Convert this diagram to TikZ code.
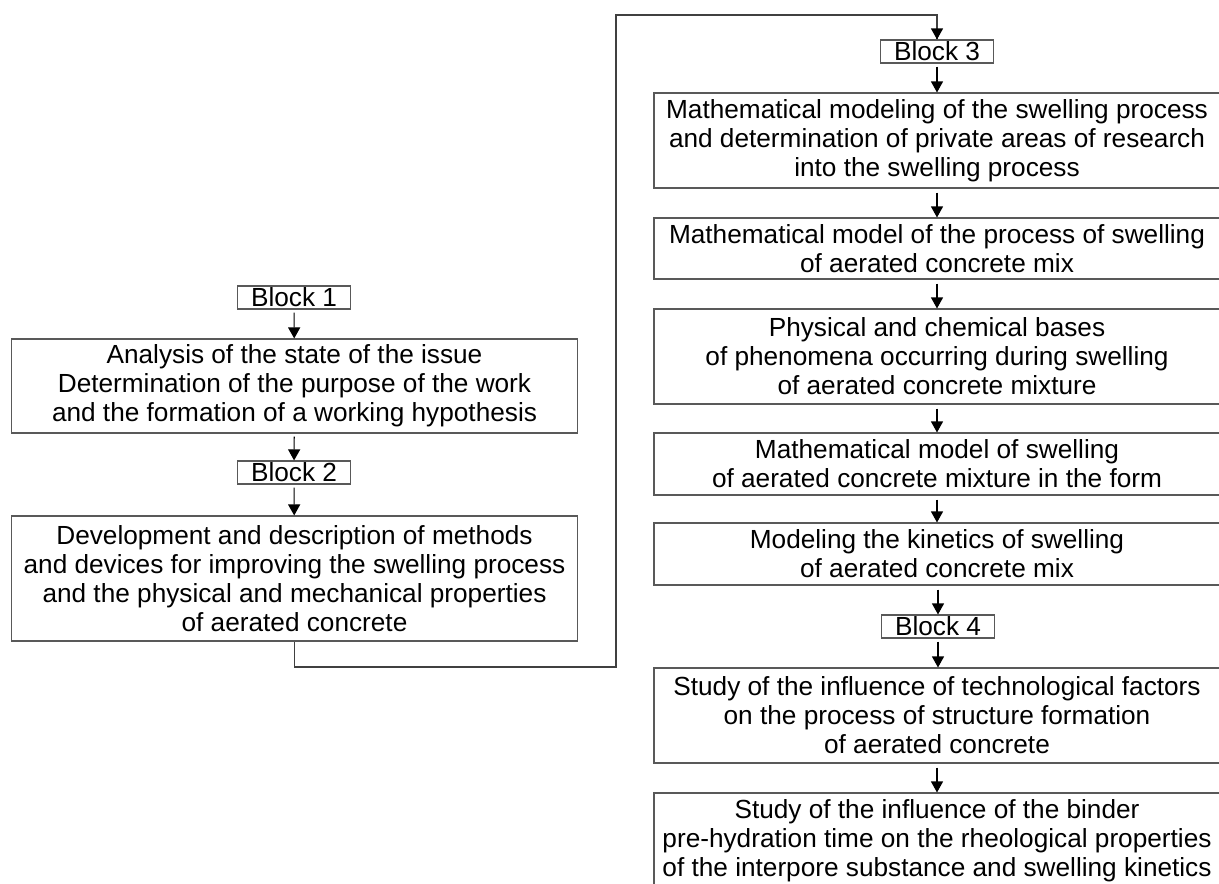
\documentclass[tikz,border=0pt]{standalone}
\usepackage{fontspec}
\setmainfont{Liberation Sans}
\usetikzlibrary{arrows.meta}
\begin{document}
\begin{tikzpicture}[x=1pt,y=-1pt,
  every node/.style={font=\fontsize{26.2}{29}\selectfont, align=center, inner sep=0pt},
  bigbox/.style={draw=black!65, line width=1.1pt, minimum width=566pt},
  blockbox/.style={draw=black!65, line width=1.1pt, minimum width=113pt, minimum height=23pt},
  flow/.style={draw=black, line width=1.1pt, -{Triangle[width=12pt,length=11pt]}},
  conn/.style={draw=black!75, line width=1.1pt}
]
\useasboundingbox (0,0) rectangle (1219,884);
% left column
\node[blockbox] (b1) at (294,297.5) {Block 1};
\node[bigbox, minimum height=94pt] (a) at (294.5,386) {Analysis of the state of the issue\\Determination of the purpose of the work\\and the formation of a working hypothesis};
\node[blockbox] (b2) at (294,472.5) {Block 2};
\node[bigbox, minimum height=125pt] (b) at (294.5,578.5) {Development and description of methods\\and devices for improving the swelling process\\and the physical and mechanical properties\\of aerated concrete};
% right column
\node[blockbox] (b3) at (937,51.5) {Block 3};
\node[bigbox, minimum height=95pt] (r1) at (937,140.5) {Mathematical modeling of the swelling process\\and determination of private areas of research\\into the swelling process};
\node[bigbox, minimum height=61pt] (r2) at (937,248.5) {Mathematical model of the process of swelling\\of aerated concrete mix};
\node[bigbox, minimum height=95pt] (r3) at (937,356.5) {Physical and chemical bases\\of phenomena occurring during swelling\\of aerated concrete mixture};
\node[bigbox, minimum height=62pt] (r4) at (937,464) {Mathematical model of swelling\\of aerated concrete mixture in the form};
\node[bigbox, minimum height=62pt] (r5) at (937,554) {Modeling the kinetics of swelling\\of aerated concrete mix};
\node[blockbox] (b4) at (938,626.5) {Block 4};
\node[bigbox, minimum height=95pt] (r6) at (937,715.5) {Study of the influence of technological factors\\on the process of structure formation\\of aerated concrete};
\node[bigbox, minimum height=95pt] (r7) at (937,840.5) {Study of the influence of the binder\\pre-hydration time on the rheological properties\\of the interpore substance and swelling kinetics};
% arrows
\draw[flow, shorten <=3pt] (b1) -- (a);
\draw[flow, shorten <=3pt] (a) -- (b2);
\draw[flow, shorten <=3pt] (b2) -- (b);
\draw[flow, shorten <=3pt] (b3) -- (r1);
\draw[flow, shorten <=4pt] (r1) -- (r2);
\draw[flow, shorten <=4pt] (r2) -- (r3);
\draw[flow, shorten <=4pt] (r3) -- (r4);
\draw[flow, shorten <=4pt] (r4) -- (r5);
\draw[flow, shorten <=4pt] (r5.south -| b4) -- (b4);
\draw[flow, shorten <=3pt] (b4) -- (r6.north -| b4);
\draw[flow, shorten <=4pt] (r6) -- (r7);
% long connector
\coordinate (c1) at (616,667);
\coordinate (c2) at (616,15);
\draw[conn] (b.south) |- (c1) -- (c2) -| (b3.north);
\draw[flow] (937,30) -- (b3.north);
\end{tikzpicture}
\end{document}
